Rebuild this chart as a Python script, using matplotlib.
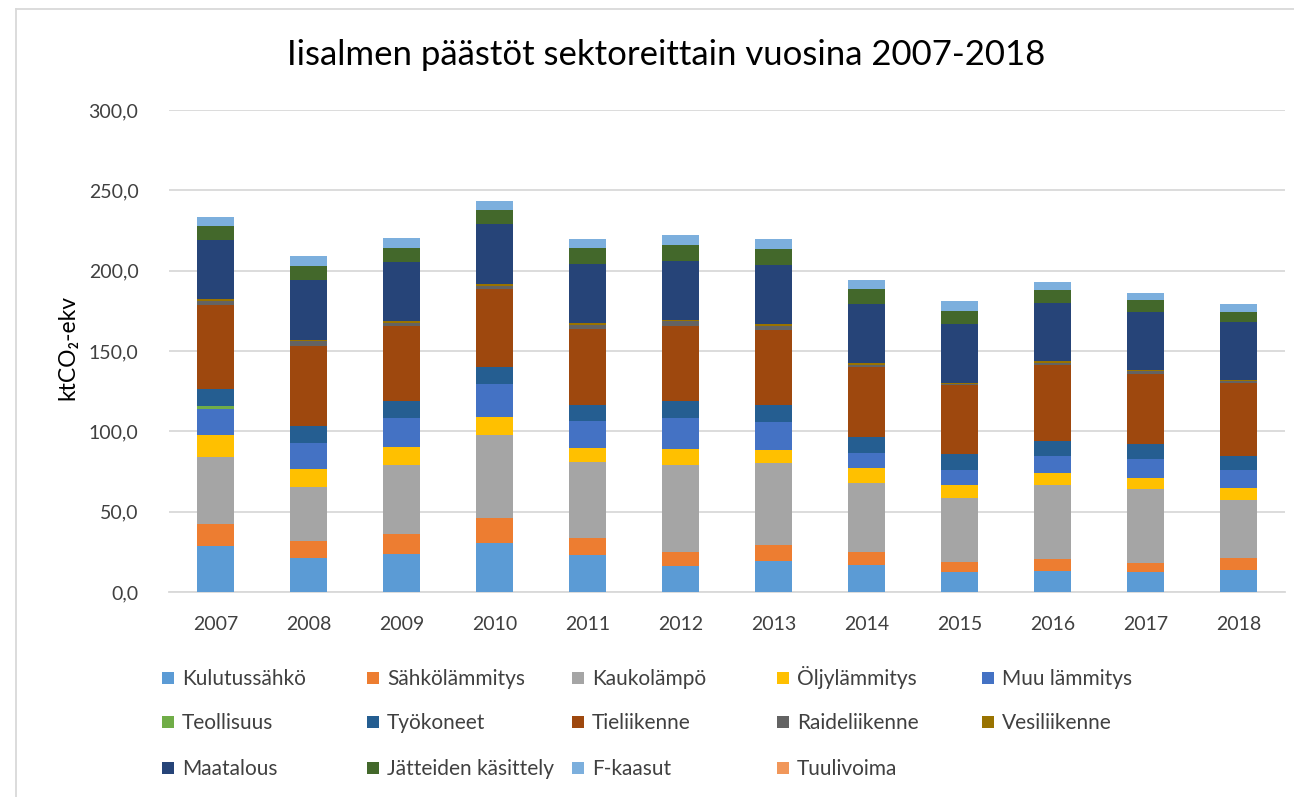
import numpy as np
import matplotlib.pyplot as plt
from matplotlib.patches import Rectangle
from matplotlib.ticker import FuncFormatter

plt.rcParams['font.family'] = ['Lato', 'DejaVu Sans']

years = ['2007', '2008', '2009', '2010', '2011', '2012',
         '2013', '2014', '2015', '2016', '2017', '2018']

# emissions per sector, ktCO2-ekv
kulutussahko = [28.5, 21.2, 23.5, 30.2, 22.9, 16.2, 19.6, 17.1, 12.3, 13.1, 12.3, 14.0]
sahkolammitys = [13.7, 10.6, 12.5, 15.9, 11.0, 9.0, 9.7, 7.5, 6.4, 7.3, 5.8, 7.2]
kaukolampo = [42.0, 33.7, 43.0, 51.6, 46.8, 53.8, 50.7, 43.4, 39.5, 46.1, 45.7, 36.2]
oljylammitys = [13.5, 10.8, 11.4, 11.4, 8.9, 10.0, 8.2, 8.9, 8.1, 7.3, 7.3, 7.1]
muu_lammitys = [16.2, 16.6, 17.7, 20.2, 17.0, 19.3, 17.6, 9.8, 9.6, 11.0, 11.4, 11.4]
teollisuus = [1.9, 0, 0, 0, 0, 0, 0, 0, 0, 0, 0, 0]
tyokoneet = [10.4, 10.4, 10.6, 10.6, 9.8, 10.4, 10.6, 9.6, 9.9, 9.1, 9.8, 8.9]
tieliikenne = [52.4, 50.1, 46.9, 48.6, 47.6, 46.9, 46.9, 43.6, 42.9, 47.4, 43.4, 45.3]
raideliikenne = [2.8, 3.1, 1.9, 2.1, 2.3, 3.2, 2.2, 1.6, 1.0, 1.5, 1.7, 1.3]
vesiliikenne = [1.1, 0.3, 1.3, 1.0, 1.0, 0.3, 1.0, 0.9, 0.6, 1.0, 0.8, 0.6]
maatalous = [36.3, 37.2, 36.3, 37.6, 37.0, 37.2, 37.0, 37.0, 36.2, 36.2, 36.2, 36.0]
jatteet = [8.8, 8.9, 8.7, 8.8, 9.8, 9.5, 9.7, 9.5, 8.5, 8.1, 7.3, 6.2]
f_kaasut = [5.8, 6.3, 6.5, 5.6, 5.6, 6.7, 6.5, 5.4, 6.4, 4.8, 4.7, 5.0]
tuulivoima = [0, 0, 0, 0, 0, 0, 0, 0, 0, 0, 0, 0]

series = [
    ('Kulutussähkö', kulutussahko, '#5B9BD5'),
    ('Sähkölämmitys', sahkolammitys, '#ED7D31'),
    ('Kaukolämpö', kaukolampo, '#A5A5A5'),
    ('Öljylämmitys', oljylammitys, '#FFC000'),
    ('Muu lämmitys', muu_lammitys, '#4472C4'),
    ('Teollisuus', teollisuus, '#70AD47'),
    ('Työkoneet', tyokoneet, '#255E91'),
    ('Tieliikenne', tieliikenne, '#9E480E'),
    ('Raideliikenne', raideliikenne, '#636363'),
    ('Vesiliikenne', vesiliikenne, '#997300'),
    ('Maatalous', maatalous, '#264478'),
    ('Jätteiden käsittely', jatteet, '#43682B'),
    ('F-kaasut', f_kaasut, '#7CAFDD'),
    ('Tuulivoima', tuulivoima, '#F1975A'),
]

W, H = 1294, 797
fig = plt.figure(figsize=(W / 100, H / 100), dpi=100)
ax = fig.add_axes([169 / W, 1 - 592 / H, 1116 / W, 482 / H])

x = np.arange(len(years))
bottom = np.zeros(len(years))
for name, vals, col in series:
    vals = np.array(vals, dtype=float)
    ax.bar(x, vals, 0.4, bottom=bottom, color=col, zorder=3)
    bottom += vals

ax.set_xlim(-0.5, len(years) - 0.5)
ax.set_ylim(0, 300)
ax.set_yticks(np.arange(0, 301, 50))
ax.yaxis.set_major_formatter(FuncFormatter(lambda v, p: f'{v:.1f}'.replace('.', ',')))
ax.set_xticks(x)
ax.set_xticklabels(years)
ax.tick_params(length=0, labelsize=14, colors='#404040')
ax.tick_params(axis='x', pad=17)
ax.tick_params(axis='y', pad=22)
ax.grid(axis='y', color='#D9D9D9', linewidth=1.3, zorder=0)
for s in ['top', 'right', 'left']:
    ax.spines[s].set_visible(False)
ax.spines['bottom'].set_color('#D9D9D9')
ax.spines['bottom'].set_linewidth(1.3)

fig.text(68 / W, 1 - 347 / H, 'ktCO₂-ekv', rotation=90, ha='center', va='center',
         fontsize=16.5, color='#000000')
fig.text(666 / W, 1 - 55 / H, 'Iisalmen päästöt sektoreittain vuosina 2007-2018',
         ha='center', va='center', fontsize=25, color='#000000')

# legend laid out like excel: row by row, fixed column width
col_x = [162 + 205 * k for k in range(5)]
row_y = [678, 722, 768]
sq = 12
for i, (name, vals, col) in enumerate(series):
    cx = col_x[i % 5]
    cy = row_y[i // 5]
    fig.add_artist(Rectangle((cx / W, 1 - (cy + sq / 2) / H), sq / W, sq / H,
                             facecolor=col, edgecolor='none', transform=fig.transFigure))
    fig.text((cx + 20) / W, 1 - (cy + 7) / H, name, ha='left', va='baseline',
             fontsize=15, color='#404040')

# chart frame (only left and top edges are visible in the crop)
fig.add_artist(plt.Line2D([16 / W, 16 / W], [0, 1 - 9 / H], color='#D9D9D9',
                          linewidth=1.3, transform=fig.transFigure))
fig.add_artist(plt.Line2D([16 / W, 1], [1 - 9 / H, 1 - 9 / H], color='#D9D9D9',
                          linewidth=1.3, transform=fig.transFigure))

fig.savefig('out.png', dpi=100)
